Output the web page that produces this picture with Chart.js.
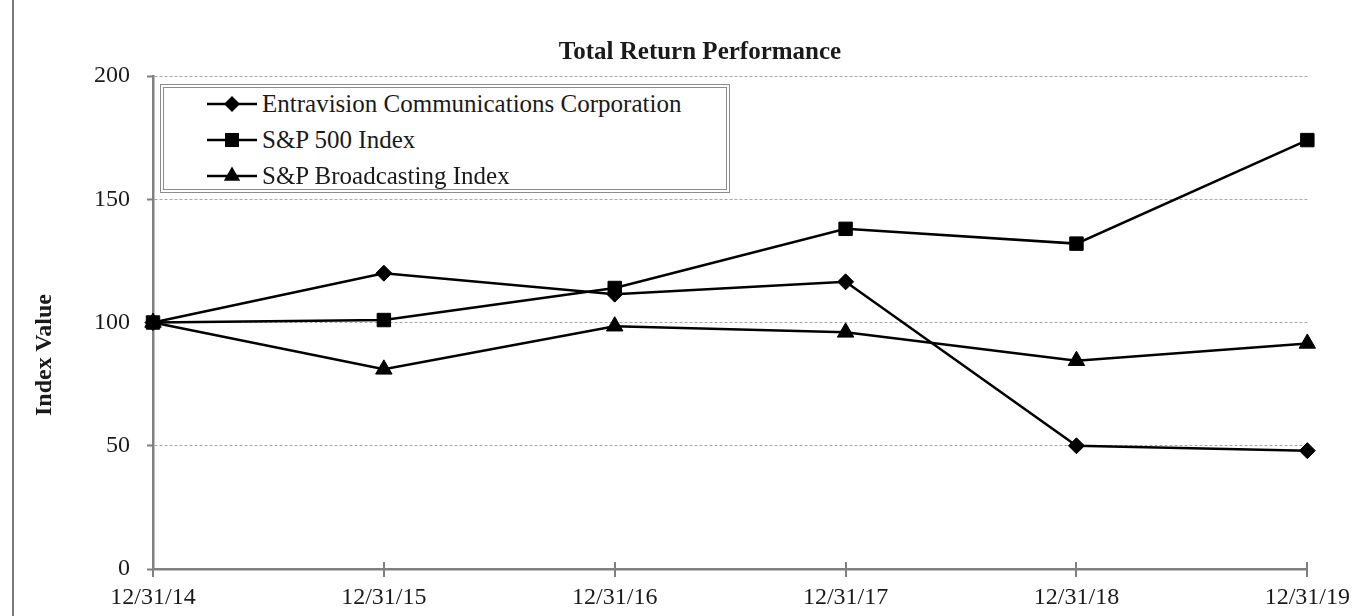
<!DOCTYPE html>
<html>
<head>
<meta charset="utf-8">
<script src="https://cdn.jsdelivr.net/npm/chart.js@4.4.1/dist/chart.umd.min.js"></script>
<style>
  body { margin: 0; background: #fff; }
  #wrap { position: relative; width: 1364px; height: 616px; background: #fff; font-family: 'Liberation Serif', 'Times New Roman', serif; color: #1a1a1a; }
  #frame { position: absolute; left: 12px; top: 0; width: 2px; height: 616px; background: #7a7a7a; }
  #chart { position: absolute; left: 0; top: 0; }
  #title { position: absolute; left: 500px; top: 38px; width: 400px; text-align: center; font-weight: bold; font-size: 25px; line-height: 25px; white-space: nowrap; }
  #ytitle { position: absolute; left: -57px; top: 340px; width: 200px; height: 30px; line-height: 30px; text-align: center; font-weight: bold; font-size: 24px; transform: rotate(-90deg); white-space: nowrap; }
  #legend { position: absolute; left: 160px; top: 84px; width: 570px; height: 109px; box-sizing: border-box; border: 4px double #8c8c8c; background: #fff; }
  .row { position: absolute; left: 0; height: 36px; width: 100%; }
  .row svg { position: absolute; left: 43px; top: 8px; }
  .row span { position: absolute; left: 98px; top: 0; font-size: 25px; line-height: 36px; white-space: nowrap; }
</style>
</head>
<body>
<div id="wrap">
  <div id="frame"></div>
  <canvas id="chart" width="1364" height="616"></canvas>
  <div id="title">Total Return Performance</div>
  <div id="ytitle">Index Value</div>
  <div id="legend"></div>
</div>
<script>
// values
const dates = ["12/31/14", "12/31/15", "12/31/16", "12/31/17", "12/31/18", "12/31/19"];
const entravision = [100, 120, 111.5, 116.5, 50, 48];
const sp500 = [100, 101, 114, 138, 132, 174];
const spBroadcasting = [100, 81, 98.5, 96, 84.5, 91.5];
const seriesNames = ["Entravision Communications Corporation", "S&P 500 Index", "S&P Broadcasting Index"];
const pointStyles = ["rectRot", "rect", "triangle"];
const pointSizes = [8, 9.5, 9.5];

const serif = "'Liberation Serif', 'Times New Roman', serif";
const axisGray = "#808080";

function makeSet(i, values, order) {
  return {
    label: seriesNames[i],
    data: values,
    borderColor: "#000",
    backgroundColor: "#000",
    borderWidth: 2.5,
    tension: 0,
    pointStyle: pointStyles[i],
    pointRadius: pointSizes[i],
    pointHoverRadius: pointSizes[i],
    pointBackgroundColor: "#000",
    pointBorderColor: "#000",
    pointBorderWidth: 1,
    clip: false,
    order: order
  };
}

// x axis ticks cross the axis line
const crossTicks = {
  id: "crossTicks",
  beforeDatasetsDraw(chart) {
    const { ctx, chartArea } = chart;
    const x = chart.scales.x;
    ctx.save();
    ctx.strokeStyle = axisGray;
    ctx.lineWidth = 2;
    x.ticks.forEach((t, i) => {
      const px = Math.round(x.getPixelForTick(i));
      ctx.beginPath();
      ctx.moveTo(px, chartArea.bottom - 7);
      ctx.lineTo(px, chartArea.bottom + 8);
      ctx.stroke();
    });
    ctx.restore();
  }
};

new Chart(document.getElementById("chart"), {
  type: "line",
  data: {
    labels: dates,
    datasets: [
      makeSet(0, entravision, 1),
      makeSet(1, sp500, 0),
      makeSet(2, spBroadcasting, 2)
    ]
  },
  options: {
    responsive: false,
    animation: false,
    layout: { padding: { left: 0, top: 76, right: 52, bottom: 0 } },
    plugins: {
      legend: { display: false },
      title: { display: false },
      tooltip: { enabled: false }
    },
    scales: {
      x: {
        offset: false,
        afterFit: s => { s.height = 47; },
        grid: { drawOnChartArea: false, drawTicks: false },
        border: { color: axisGray, width: 2.5 },
        ticks: {
          padding: 14,
          maxRotation: 0,
          autoSkip: false,
          color: "#1a1a1a",
          font: { family: serif, size: 24 }
        }
      },
      y: {
        min: 0,
        max: 200,
        afterFit: s => { s.width = 153; },
        grid: {
          color: c => (c.tick && c.tick.value === 0 ? "rgba(0,0,0,0)" : "#a8a8a8"),
          lineWidth: 1,
          tickLength: 6,
          tickColor: axisGray,
          tickWidth: 2
        },
        border: { color: axisGray, width: 2.5, dash: [3, 2] },
        ticks: {
          stepSize: 50,
          padding: 17,
          color: "#1a1a1a",
          font: { family: serif, size: 24 }
        }
      }
    }
  },
  plugins: [crossTicks]
});

// legend box inside the plot
function markerSvg(style) {
  let shape;
  if (style === "rectRot") shape = '<polygon points="25,2 33,10 25,18 17,10"/>';
  else if (style === "rect") shape = '<rect x="18" y="3" width="14" height="14"/>';
  else shape = '<polygon points="25,0.5 33.2,14.75 16.8,14.75"/>';
  return '<svg width="50" height="20"><line x1="0" y1="10" x2="50" y2="10" stroke="#000" stroke-width="2.5"/><g fill="#000">' + shape + "</g></svg>";
}

const legend = document.getElementById("legend");
seriesNames.forEach((name, i) => {
  const row = document.createElement("div");
  row.className = "row";
  row.style.top = (-2.5 + 36 * i) + "px";
  row.innerHTML = markerSvg(pointStyles[i]);
  const span = document.createElement("span");
  span.textContent = name;
  row.appendChild(span);
  legend.appendChild(row);
});
</script>
</body>
</html>
